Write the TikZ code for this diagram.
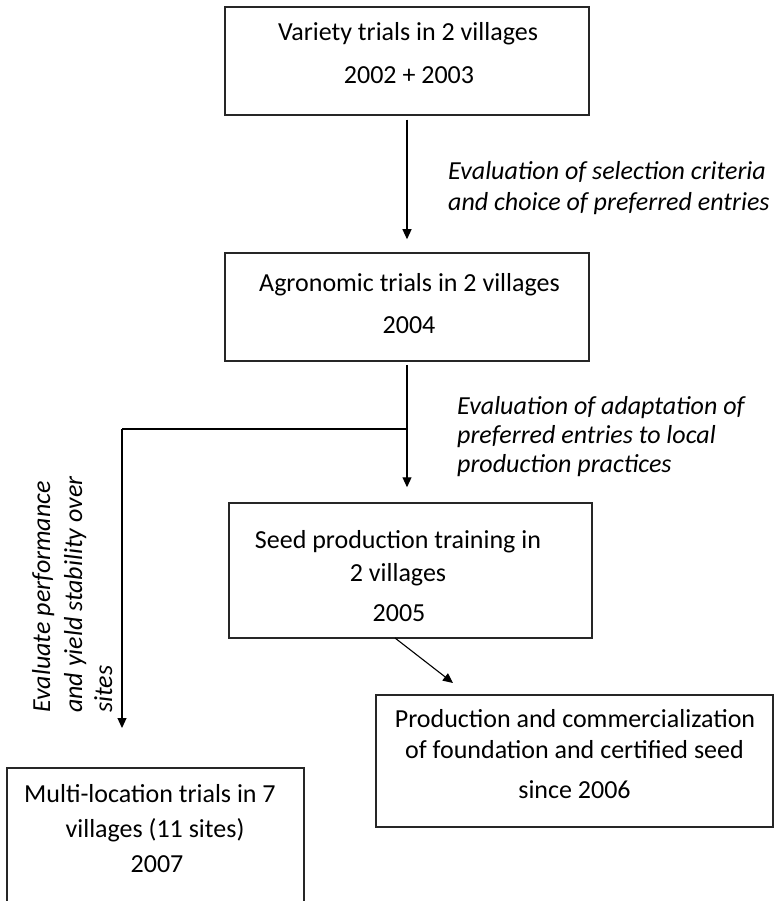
\documentclass[tikz,border=0pt]{standalone}
\usepackage{fontspec}
\setmainfont{Carlito}
\usetikzlibrary{arrows.meta}
\begin{document}
\begin{tikzpicture}[x=1pt,y=-1pt,
  box/.style={draw=black!85, line width=1.5pt, inner sep=0pt, rectangle},
  txt/.style={inner sep=0pt, anchor=base, font=\fontsize{26}{31}\selectfont},
  itxt/.style={inner sep=0pt, anchor=base west, font=\fontsize{26}{31}\selectfont\itshape},
  arr/.style={draw=black, line width=1.1pt, -{Triangle[length=10pt,width=9pt]}},
  plain/.style={draw=black, line width=1.1pt}]
\useasboundingbox (0,0) rectangle (775,901);
\clip (0,0) rectangle (775,901);
% boxes
\node[box, minimum width=364pt, minimum height=108pt] (b1) at (407,61) {};
\node[box, minimum width=364pt, minimum height=108pt] (b2) at (407,307) {};
\node[box, minimum width=363pt, minimum height=135pt] (b3) at (410.5,570.5) {};
\node[box, minimum width=397pt, minimum height=132pt] (b4) at (574.5,761) {};
\node[box, minimum width=297pt, minimum height=144pt] (b5) at (155.5,840) {};
% box texts
\node[txt] (t1a) at (408,41) {Variety trials in 2 villages};
\node[txt] (t1b) at (409,84) {2002 + 2003};
\node[txt] (t2a) at (409.5,291) {Agronomic trials in 2 villages};
\node[txt] (t2b) at (409,333) {2004};
\node[txt] (t3a) at (398,548) {Seed production training in};
\node[txt] (t3b) at (398,581) {2 villages};
\node[txt] (t3c) at (399,621) {2005};
\node[txt] (t4a) at (575,727) {Production and commercialization};
\node[txt] (t4b) at (574.5,758) {of foundation and certified seed};
\node[txt] (t4c) at (574.5,798) {since 2006};
\node[txt] (t5a) at (150,802) {Multi-location trials in 7};
\node[txt] (t5b) at (155,837) {villages (11 sites)};
\node[txt] (t5c) at (157,872) {2007};
% italic labels
\node[itxt] (l1a) at (448,180) {Evaluation of selection criteria};
\node[itxt] (l1b) at (448,211) {and choice of preferred entries};
\node[itxt] (l2a) at (457,414) {Evaluation of adaptation of};
\node[itxt] (l2b) at (457,443) {preferred entries to local};
\node[itxt] (l2c) at (457,472) {production practices};
\node[itxt, rotate=90] (l3a) at (50,713) {Evaluate performance};
\node[itxt, rotate=90] (l3b) at (82,713) {and yield stability over};
\node[itxt, rotate=90] (l3c) at (112,713) {sites};
% connectors
\coordinate (br) at (407,429);
\coordinate (lt) at (122,429);
\coordinate (ltip) at (122,728);
\coordinate (dst) at (395,638);
\coordinate (dtip) at (453,683);
\draw[arr, shorten <=4pt, shorten >=13pt] (b1.south) -- (b2.north);
\draw[arr] ([yshift=-3pt]b2.south) -- ([yshift=15pt]b2.south |- b3.north);
\draw[plain] (br) -- (lt);
\draw[arr] (lt) -- (ltip);
\draw[arr] (dst) -- (dtip);
\end{tikzpicture}
\end{document}
